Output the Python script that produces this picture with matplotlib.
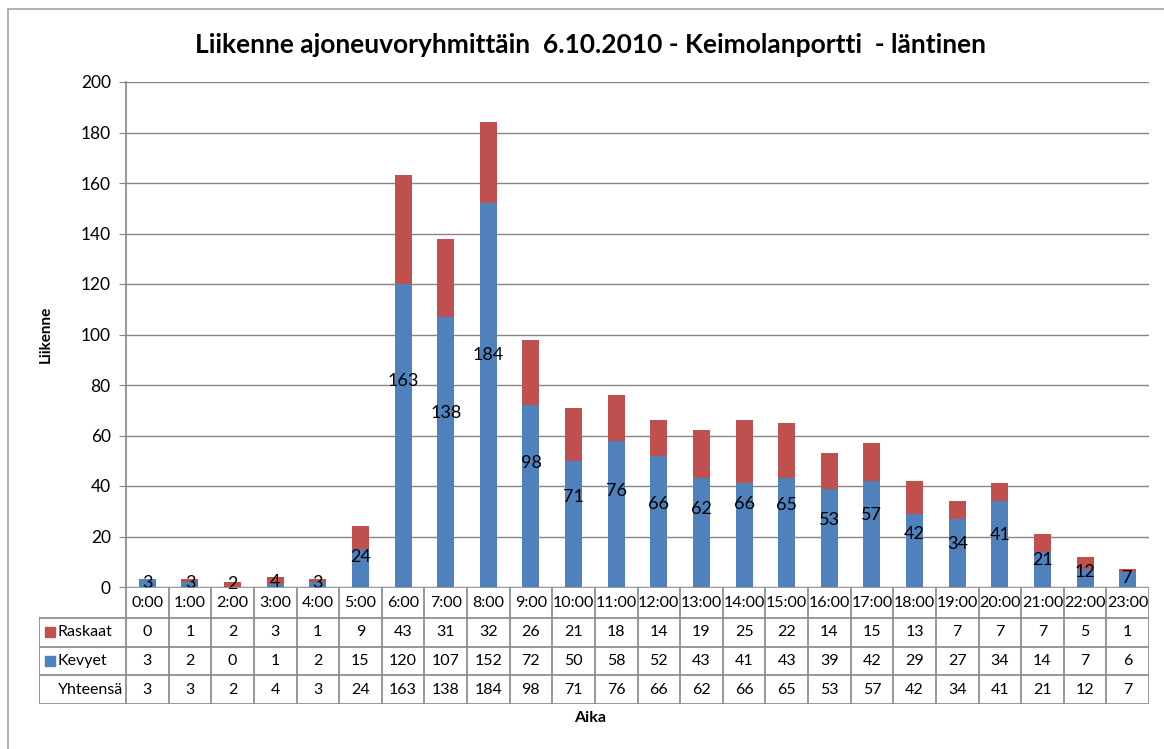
import numpy as np
import matplotlib
matplotlib.use("Agg")
import matplotlib.pyplot as plt
from matplotlib.patches import Rectangle

# =========================
# data
# =========================
hours = [f"{h}:00" for h in range(24)]
raskaat = [0, 1, 2, 3, 1, 9, 43, 31, 32, 26, 21, 18, 14, 19, 25, 22, 14, 15, 13, 7, 7, 7, 5, 1]
kevyet = [3, 2, 0, 1, 2, 15, 120, 107, 152, 72, 50, 58, 52, 43, 41, 43, 39, 42, 29, 27, 34, 14, 7, 6]
yhteensa = [3, 3, 2, 4, 3, 24, 163, 138, 184, 98, 71, 76, 66, 62, 66, 65, 53, 57, 42, 34, 41, 21, 12, 7]
y_ticks = [0, 20, 40, 60, 80, 100, 120, 140, 160, 180, 200]

BLUE = "#4F81BD"
RED = "#C0504D"
GRID = "#868686"

plt.rcParams["font.family"] = ["Lato", "DejaVu Sans"]

W, H = 1164, 749
fig = plt.figure(figsize=(W / 100, H / 100), dpi=100)

def px(x0, y0, x1, y1):
    return [x0 / W, 1 - y1 / H, (x1 - x0) / W, (y1 - y0) / H]

# chart border
fig.add_artist(Rectangle((8 / W, -0.1), 1.2, 1 - 9 / H + 0.1, transform=fig.transFigure,
                         fill=False, edgecolor="#A6A6A6", lw=1.2))

# =========================
# main chart
# =========================
L, R, T, B = 126, 1149, 82, 587
ax = fig.add_axes(px(L, T, R, B))
x = np.arange(len(hours))
ax.bar(x, kevyet, width=0.4, color=BLUE, zorder=3)
ax.bar(x, raskaat, width=0.4, bottom=kevyet, color=RED, zorder=3)
for xi, t in zip(x, yhteensa):
    ax.text(xi, t / 2, str(t), ha="center", va="center", fontsize=13, zorder=4)

ax.set_xlim(-0.5, len(hours) - 0.5)
ax.set_ylim(0, 200)
ax.set_yticks(y_ticks)
ax.tick_params(axis="y", labelsize=12.5, length=5, color=GRID, pad=6)
ax.set_xticks([])
ax.yaxis.grid(True, color=GRID, lw=1, zorder=0)
for s in ["top", "right", "bottom"]:
    ax.spines[s].set_visible(False)
ax.spines["left"].set_color(GRID)
ax.spines["left"].set_linewidth(1.2)
ax.set_ylabel("Liikenne", fontsize=11, fontweight="bold", labelpad=20)

fig.text(0.507, 1 - 45 / H, "Liikenne ajoneuvoryhmittäin  6.10.2010 - Keimolanportti  - läntinen",
         ha="center", va="center", fontsize=19, fontweight="bold")

# =========================
# data table
# =========================
TL = 39
col_w = (R - L) / len(hours)
leg_w = (L - TL) / col_w
tab = fig.add_axes(px(TL, B, R, 704))
tab.set_xlim(-0.5 - leg_w, len(hours) - 0.5)
row_edges = [0, 1.07, 2.07, 3.07, 4.07]
tab.set_ylim(row_edges[-1], 0)
tab.axis("off")

lc = dict(color=GRID, lw=1.2)
xl = -0.5 - leg_w
xr = len(hours) - 0.5
# horizontal lines
tab.plot([-0.5, xr], [0, 0], **lc)
for yy in row_edges[1:]:
    tab.plot([xl, xr], [yy, yy], **lc)
# vertical lines
for i in range(len(hours) + 1):
    tab.plot([i - 0.5, i - 0.5], [0, row_edges[-1]], **lc)
tab.plot([xl, xl], [row_edges[1], row_edges[-1]], **lc)

rows = [("Raskaat", raskaat, RED), ("Kevyet", kevyet, BLUE), ("Yhteensä", yhteensa, None)]
for i, h in enumerate(hours):
    tab.text(i, row_edges[0] + 0.55, h, ha="center", va="center", fontsize=11.5)
for r, (name, vals, c) in enumerate(rows):
    yc = (row_edges[r + 1] + row_edges[r + 2]) / 2
    if c is not None:
        tab.add_patch(Rectangle((xl + 6 / col_w, yc - 0.18), 10 / col_w, 0.36, color=c, clip_on=False))
    tab.text(xl + 19 / col_w, yc, name, ha="left", va="center", fontsize=11.5)
    for i, v in enumerate(vals):
        tab.text(i, yc, str(v), ha="center", va="center", fontsize=11.5)

fig.text(590 / W, 1 - 718 / H, "Aika", ha="center", va="center", fontsize=11.5, fontweight="bold")

fig.savefig("out.png", dpi=100)
